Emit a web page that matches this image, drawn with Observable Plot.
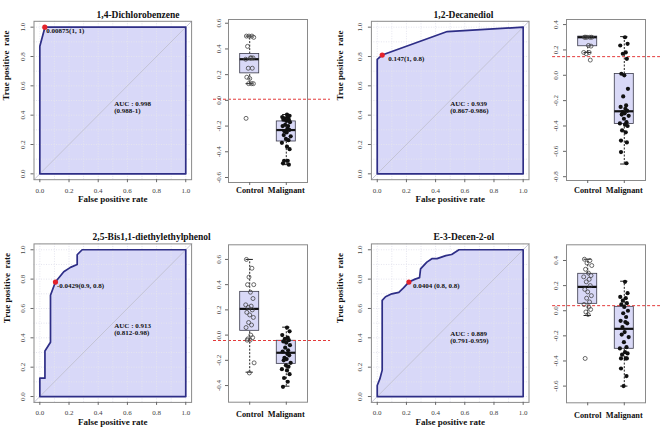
<!DOCTYPE html>
<html>
<head>
<meta charset="utf-8">
<script src="https://cdn.jsdelivr.net/npm/d3@7"></script>
<script src="https://cdn.jsdelivr.net/npm/@observablehq/plot@0.6"></script>
<style>
  html, body { margin: 0; padding: 0; background: #fff; }
  #chart { position: relative; width: 660px; height: 429px; overflow: hidden; background: #fff; }
  #chart svg { position: absolute; left: 0; top: 0; }
</style>
</head>
<body>
<div id="chart"></div>
<script>
// ---------------- DATA ----------------
const titles = ["1,4-Dichlorobenzene", "1,2-Decanediol", "2,5-Bis1,1-diethylethylphenol", "E-3-Decen-2-ol"];
const groups = ["Control", "Malignant"];
const rocTicks = [0, 0.2, 0.4, 0.6, 0.8, 1.0];
const gridVals = [0, 0.1, 0.2, 0.3, 0.4, 0.5, 0.6, 0.7, 0.8, 0.9, 1.0];

// ROC curves (false positive rate, true positive rate)
const rocFpr1 = [0, 0, 0.035, 1];
const rocTpr1 = [0, 0.87, 1, 1];
const rocFpr2 = [0, 0, 0.034, 0.48, 1];
const rocTpr2 = [0, 0.78, 0.81, 0.97, 1];
const rocFpr3 = [0, 0, 0.035, 0.035, 0.073, 0.073, 0.107, 0.164, 0.21, 0.256, 0.256, 0.29, 1];
const rocTpr3 = [0, 0.125, 0.125, 0.31, 0.37, 0.69, 0.78, 0.85, 0.88, 0.90, 0.966, 1, 1];
const rocFpr4 = [0, 0, 0.018, 0.034, 0.034, 0.057, 0.10, 0.148, 0.18, 0.217, 0.26, 0.29, 0.297, 0.34, 0.377, 0.41, 0.47, 0.51, 0.56, 1];
const rocTpr4 = [0, 0.075, 0.12, 0.18, 0.655, 0.68, 0.70, 0.71, 0.74, 0.78, 0.80, 0.81, 0.87, 0.916, 0.94, 0.94, 0.96, 0.968, 1, 1];

// best thresholds (fpr, tpr) and labels
const bestPts = [[0.034, 1], [0.034, 0.81], [0.107, 0.78], [0.217, 0.78]];
const bestLabels = ["0.00875(1, 1)", "0.147(1, 0.8)", "-0.0429(0.9, 0.8)", "0.0404 (0.8, 0.8)"];
const aucLabels = [["AUC : 0.998", "(0.988-1)"], ["AUC : 0.939", "(0.867-0.986)"], ["AUC : 0.913", "(0.812-0.98)"], ["AUC : 0.889", "(0.791-0.959)"]];
const aucPos = [[0.51, 0.48, 0.43], [0.50, 0.48, 0.43], [0.51, 0.48, 0.435], [0.50, 0.43, 0.38]];

// thresholds (red dashed lines on box plots)
const thresholds = [0.00875, 0.147, -0.0429, 0.0404];

// box plot y ticks
const boxTicks1 = [-0.6, -0.4, -0.2, 0.0, 0.2, 0.4, 0.6];
const boxTicks2 = [-0.8, -0.6, -0.4, -0.2, 0.0, 0.2, 0.4];
const boxTicks3 = [-0.4, -0.2, 0.0, 0.2, 0.4, 0.6];
const boxTicks4 = [-0.6, -0.4, -0.2, 0.0, 0.2, 0.4];

// box statistics [lower whisker, Q1, median, Q3, upper whisker]
const ctrlStats1 = [0.13, 0.21, 0.32, 0.36, 0.50];
const maligStats1 = [-0.50, -0.32, -0.231, -0.164, -0.11];
const ctrlStats2 = [0.18, 0.229, 0.30, 0.305, 0.305];
const maligStats2 = [-0.70, -0.384, -0.284, 0.01, 0.305];
const ctrlStats3 = [-0.294, 0.034, 0.208, 0.343, 0.60];
const maligStats3 = [-0.405, -0.228, -0.14, -0.045, 0.063];
const ctrlStats4 = [-0.038, 0.055, 0.19, 0.294, 0.41];
const maligStats4 = [-0.60, -0.303, -0.144, 0.031, 0.235];

// individual sample values
const ctrl1 = [0.50, 0.50, 0.50, 0.49, 0.42, 0.33, 0.33, 0.32, 0.33, 0.25, 0.25, 0.18, 0.17, 0.13, 0.13, 0.13, -0.14];
const malig1 = [-0.11, -0.12, -0.13, -0.13, -0.14, -0.15, -0.15, -0.16, -0.17, -0.19, -0.20, -0.20, -0.22, -0.23, -0.24, -0.25, -0.27, -0.28, -0.30, -0.31, -0.33, -0.36, -0.38, -0.47, -0.47, -0.49, -0.50];
const ctrl2 = [0.30, 0.30, 0.30, 0.30, 0.30, 0.235, 0.23, 0.18, 0.18, 0.17, 0.12];
const malig2 = [0.30, 0.248, 0.235, 0.18, 0.17, 0.13, 0.012, 0.0, -0.107, -0.167, -0.238, -0.25, -0.264, -0.28, -0.29, -0.30, -0.31, -0.32, -0.343, -0.37, -0.38, -0.39, -0.40, -0.435, -0.45, -0.515, -0.53, -0.606, -0.694];
const ctrl3 = [0.60, 0.53, 0.46, 0.40, 0.40, 0.34, 0.29, 0.24, 0.23, 0.22, 0.20, 0.18, 0.16, 0.14, 0.10, 0.08, 0.06, 0.0, -0.02, -0.03, -0.04, -0.04, -0.22, -0.30];
const malig3 = [0.06, 0.03, 0.0, -0.02, -0.03, -0.04, -0.05, -0.06, -0.08, -0.10, -0.12, -0.13, -0.15, -0.16, -0.18, -0.19, -0.20, -0.22, -0.24, -0.25, -0.27, -0.28, -0.31, -0.34, -0.37, -0.41];
const ctrl4 = [0.41, 0.40, 0.38, 0.36, 0.33, 0.30, 0.28, 0.27, 0.25, 0.23, 0.20, 0.17, 0.15, 0.12, 0.10, 0.07, 0.05, 0.03, 0.01, -0.01, -0.03, -0.38];
const malig4 = [0.23, 0.14, 0.11, 0.10, 0.08, 0.06, 0.05, 0.03, 0.0, -0.02, -0.05, -0.08, -0.09, -0.10, -0.13, -0.17, -0.19, -0.21, -0.25, -0.29, -0.30, -0.33, -0.34, -0.35, -0.38, -0.38, -0.38, -0.46, -0.52, -0.60];

// fixed horizontal jitter pattern for the strip points
const jitter = [-0.09, 0.06, -0.02, 0.11, -0.06, 0.02, 0.09, -0.11, 0.04, -0.04, 0.07, -0.08, 0.0, 0.10, -0.03, 0.05, -0.10, 0.03, 0.08, -0.05, 0.01, -0.07, 0.12, -0.01, 0.06, -0.12, 0.02, 0.09, -0.06, 0.04, -0.09, 0.07];

// ---------------- LAYOUT ----------------
const W = 660, H = 429;
const serif = "'Liberation Serif', 'DejaVu Serif', serif";
const baseStyle = { background: "transparent", fontFamily: serif, position: "absolute", left: "0px", top: "0px", overflow: "visible" };

function rocPanel(p) {
  const f = p.frame;
  const dom = [-0.04, 1.04];
  const pxX = (f.r - f.l) / 1.08, pxY = (f.b - f.t) / 1.08;
  const pts = p.fpr.map((x, i) => ({ x, y: p.tpr[i] }));
  const outline = pts.concat([{ x: 1, y: 0 }, { x: 0, y: 0 }]);
  const navy = "#2e2e86";
  return Plot.plot({
    width: W, height: H,
    marginLeft: f.l, marginRight: W - f.r, marginTop: f.t, marginBottom: H - f.b,
    x: { domain: dom, axis: null },
    y: { domain: dom, axis: null },
    style: baseStyle,
    marks: [
      Plot.area(pts, { x1: "x", y1: () => 0, y2: "y", fill: "#d8d8f8" }),
      Plot.ruleX(gridVals, { x: d => d, stroke: "#e4e4ee", strokeDasharray: "1,1.5" }),
      Plot.ruleY(gridVals, { y: d => d, stroke: "#e4e4ee", strokeDasharray: "1,1.5" }),
      Plot.line([[-0.04, -0.04], [1.04, 1.04]], { x: d => d[0], y: d => d[1], stroke: "#c4c4d6", strokeWidth: 1 }),
      Plot.line(outline, { x: "x", y: "y", stroke: navy, strokeWidth: 1.7 }),
      Plot.frame({ stroke: "#8a8a8a" }),
      // x axis
      Plot.ruleX(rocTicks, { x: d => d, y1: () => -0.04, y2: () => -0.04 - 3 / pxY, stroke: "#666" }),
      Plot.text(rocTicks, { x: d => d, y: () => -0.04, dy: p.xTickDy, text: d => d.toFixed(1), fontSize: 7, fill: "#444" }),
      // y axis
      Plot.ruleY(rocTicks, { y: d => d, x1: () => -0.04, x2: () => -0.04 - 3 / pxX, stroke: "#666" }),
      Plot.text(rocTicks, { y: d => d, x: () => -0.04, dx: -11.7, rotate: -90, text: d => d.toFixed(1), fontSize: 7, fill: "#444" }),
      // titles
      Plot.text(["False positive rate"], { frameAnchor: "bottom", dy: p.xLabDy, text: d => d, fontSize: 9, fontWeight: "bold", fill: "#111" }),
      Plot.text(["True positive  rate"], { frameAnchor: "left", dx: p.yLabDx, rotate: -90, text: d => d, fontSize: 9, fontWeight: "bold", fill: "#111" }),
      Plot.text([p.title], { frameAnchor: "top-left", dx: p.titleX - f.l, dy: -10.5, text: d => d, fontSize: 9.5, fontWeight: "bold", fill: "#111" }),
      // best threshold
      Plot.dot([p.best], { x: d => d[0], y: d => d[1], r: 2.6, fill: "#e3232a", stroke: "none" }),
      Plot.text([p.best], { x: d => d[0], y: d => d[1], text: () => p.bestLabel, textAnchor: "start", dx: p.labDx, dy: p.labDy, fontSize: 7, fontWeight: "bold", fill: "#111" }),
      // AUC
      Plot.text(p.auc, { x: () => p.aucPos[0], y: (d, i) => p.aucPos[i + 1], text: d => d, textAnchor: "start", fontSize: 7, fontWeight: "bold", fill: "#111" })
    ]
  });
}

function boxPanel(p) {
  const f = p.frame;
  const xd = [0.42, 2.58];
  const yd = p.yDomain;
  const pxX = (f.r - f.l) / (xd[1] - xd[0]);
  const pxY = (f.b - f.t) / (yd[1] - yd[0]);
  const stats = [{ c: 1, s: p.ctrlStats }, { c: 2, s: p.maligStats }];
  const ctrlPts = p.ctrl.map((v, i) => ({ x: 1 + jitter[i % jitter.length], y: v }));
  const maligPts = p.malig.map((v, i) => ({ x: 2 + jitter[(i + 5) % jitter.length], y: v }));
  const hw = 0.26, cap = 0.1;
  return Plot.plot({
    width: W, height: H,
    marginLeft: f.l, marginRight: W - f.r, marginTop: f.t, marginBottom: H - f.b,
    x: { domain: xd, axis: null },
    y: { domain: yd, axis: null },
    style: baseStyle,
    marks: [
      Plot.ruleX(stats, { x: "c", y1: d => d.s[0], y2: d => d.s[1], stroke: "#222", strokeDasharray: "2,1.5" }),
      Plot.ruleX(stats, { x: "c", y1: d => d.s[3], y2: d => d.s[4], stroke: "#222", strokeDasharray: "2,1.5" }),
      Plot.ruleY(stats, { y: d => d.s[0], x1: d => d.c - cap, x2: d => d.c + cap, stroke: "#222" }),
      Plot.ruleY(stats, { y: d => d.s[4], x1: d => d.c - cap, x2: d => d.c + cap, stroke: "#222" }),
      Plot.rect(stats, { x1: d => d.c - hw, x2: d => d.c + hw, y1: d => d.s[1], y2: d => d.s[3], fill: "#d9d9f7", stroke: "#3a3a4a", strokeWidth: 0.8 }),
      Plot.ruleY(stats, { y: d => d.s[2], x1: d => d.c - hw, x2: d => d.c + hw, stroke: "#111", strokeWidth: 2.2 }),
      Plot.ruleY([p.thr], { y: d => d, x1: () => p.redX[0], x2: () => p.redX[1], stroke: "#e33a3a", strokeDasharray: "3,2", strokeWidth: 1 }),
      Plot.dot(ctrlPts, { x: "x", y: "y", r: 2, stroke: "#444", fill: "none", strokeWidth: 0.8 }),
      Plot.dot(maligPts, { x: "x", y: "y", r: 2.1, fill: "#111", stroke: "none" }),
      Plot.frame({ stroke: "#8a8a8a" }),
      // y axis
      Plot.ruleY(p.ticks, { y: d => d, x1: () => xd[0], x2: () => xd[0] - 3 / pxX, stroke: "#666" }),
      Plot.text(p.ticks, { y: d => d, x: () => xd[0], dx: p.tickDx, rotate: -90, text: d => d.toFixed(1), fontSize: 7, fill: "#444" }),
      // x axis
      Plot.ruleX([1, 2], { x: d => d, y1: () => yd[0], y2: () => yd[0] - 3 / pxY, stroke: "#666" }),
      Plot.text(groups, { x: (d, i) => i + 1, frameAnchor: "bottom", dy: p.catDy, text: d => d, fontSize: 8.3, fontWeight: "bold", fill: "#111" })
    ]
  });
}

const rocFrameTL = { l: 33.5, r: 191.1, t: 20.8, b: 179.2 };
const rocFrameTR = { l: 370.9, r: 528.5, t: 20.8, b: 179.2 };
const rocFrameBL = { l: 33.5, r: 191.1, t: 243.4, b: 401.9 };
const rocFrameBR = { l: 370.9, r: 528.5, t: 243.4, b: 401.9 };

const chart = document.getElementById("chart");
const panels = [
  rocPanel({ frame: rocFrameTL, fpr: rocFpr1, tpr: rocTpr1, best: bestPts[0], bestLabel: bestLabels[0], auc: aucLabels[0], aucPos: aucPos[0], title: titles[0], titleX: 96, xTickDy: 11.3, xLabDy: 22.2, yLabDx: -28, labDx: 1.5, labDy: 4 }),
  rocPanel({ frame: rocFrameTR, fpr: rocFpr2, tpr: rocTpr2, best: bestPts[1], bestLabel: bestLabels[1], auc: aucLabels[1], aucPos: aucPos[1], title: titles[1], titleX: 433, xTickDy: 11.3, xLabDy: 22.2, yLabDx: -31, labDx: 6, labDy: 4 }),
  rocPanel({ frame: rocFrameBL, fpr: rocFpr3, tpr: rocTpr3, best: bestPts[2], bestLabel: bestLabels[2], auc: aucLabels[2], aucPos: aucPos[2], title: titles[2], titleX: 92, xTickDy: 10.8, xLabDy: 22.2, yLabDx: -27, labDx: 1.5, labDy: 4 }),
  rocPanel({ frame: rocFrameBR, fpr: rocFpr4, tpr: rocTpr4, best: bestPts[3], bestLabel: bestLabels[3], auc: aucLabels[3], aucPos: aucPos[3], title: titles[3], titleX: 433, xTickDy: 10.8, xLabDy: 22.2, yLabDx: -31, labDx: 4, labDy: 3.5 }),
  boxPanel({ frame: { l: 228, r: 307, t: 19, b: 182 }, yDomain: [-0.639, 0.629], ticks: boxTicks1, ctrlStats: ctrlStats1, maligStats: maligStats1, ctrl: ctrl1, malig: malig1, thr: thresholds[0], redX: [0.01, 3.21], tickDx: -9.7, catDy: 10 }),
  boxPanel({ frame: { l: 566, r: 645, t: 19, b: 180 }, yDomain: [-0.83, 0.44], ticks: boxTicks2, ctrlStats: ctrlStats2, maligStats: maligStats2, ctrl: ctrl2, malig: malig2, thr: thresholds[1], redX: [0.04, 2.99], tickDx: -11, catDy: 12.5 }),
  boxPanel({ frame: { l: 228, r: 307, t: 244.3, b: 401.7 }, yDomain: [-0.532, 0.716], ticks: boxTicks3, ctrlStats: ctrlStats3, maligStats: maligStats3, ctrl: ctrl3, malig: malig3, thr: thresholds[2], redX: [0.01, 3.21], tickDx: -9.7, catDy: 14.3 }),
  boxPanel({ frame: { l: 566, r: 645, t: 244.3, b: 402.3 }, yDomain: [-0.733, 0.525], ticks: boxTicks4, ctrlStats: ctrlStats4, maligStats: maligStats4, ctrl: ctrl4, malig: malig4, thr: thresholds[3], redX: [0.04, 2.99], tickDx: -11, catDy: 15 })
];
panels.forEach(svg => chart.appendChild(svg));
</script>
</body>
</html>
